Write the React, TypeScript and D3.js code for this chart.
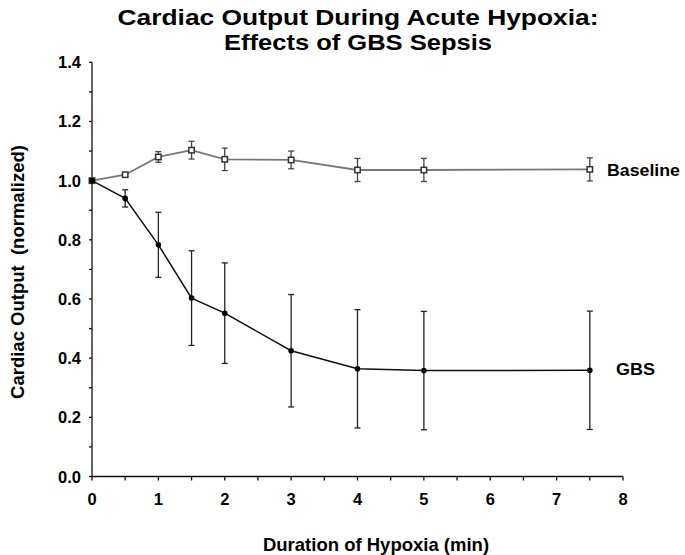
import React from "react";
import * as d3 from "d3";

const times = [0, 0.5, 1, 1.5, 2, 3, 4, 5, 7.5];
const baselineMean = [1.0, 1.02, 1.08, 1.103, 1.072, 1.07, 1.036, 1.036, 1.038];
const baselineErr = [0, 0.006, 0.018, 0.03, 0.038, 0.03, 0.039, 0.039, 0.039];
const gbsMean = [1.0, 0.94, 0.783, 0.603, 0.552, 0.425, 0.364, 0.358, 0.359];
const gbsErr = [0, 0.029, 0.11, 0.16, 0.17, 0.19, 0.2, 0.2, 0.2];
const xTicks = [0, 1, 2, 3, 4, 5, 6, 7, 8];
const yTicks = [0, 0.2, 0.4, 0.6, 0.8, 1.0, 1.2, 1.4];

const FONT = "'Liberation Sans', Arial, Helvetica, sans-serif";

export default function App() {
  const x = d3.scaleLinear().domain([0, 8]).range([92, 623]);
  const y = d3.scaleLinear().domain([0, 1.4]).range([476.5, 62.3]);
  const line = d3
    .line<number>()
    .x((_, i) => x(times[i]))
    .y((d) => y(d));
  const xMinor = d3.range(0, 8.01, 0.5);
  const yMinor = d3.range(0, 1.401, 0.1);

  const errBars = (means: number[], errs: number[], color: string) =>
    times.map((t, i) =>
      errs[i] > 0 ? (
        <g key={i} stroke={color} strokeWidth={1.3}>
          <line x1={x(t)} x2={x(t)} y1={y(means[i] + errs[i])} y2={y(means[i] - errs[i])} />
          <line x1={x(t) - 3} x2={x(t) + 3} y1={y(means[i] + errs[i])} y2={y(means[i] + errs[i])} />
          <line x1={x(t) - 3} x2={x(t) + 3} y1={y(means[i] - errs[i])} y2={y(means[i] - errs[i])} />
        </g>
      ) : null
    );

  return (
    <svg
      width={685}
      height={555}
      style={{ position: "absolute", left: 0, top: 0, background: "#fff" }}
      fontFamily={FONT}
    >
      <rect width={685} height={555} fill="#fff" />
      {/* Title */}
      <text x={358} y={25} textAnchor="middle" fontSize={22.5} fontWeight="bold" textLength={481} lengthAdjust="spacingAndGlyphs">
        Cardiac Output During Acute Hypoxia:
      </text>
      <text x={358} y={50} textAnchor="middle" fontSize={22.5} fontWeight="bold" textLength={268} lengthAdjust="spacingAndGlyphs">
        Effects of GBS Sepsis
      </text>

      {/* Axes */}
      <g stroke="#111" strokeWidth={1.3}>
        <line x1={x(0)} x2={x(0)} y1={y(0)} y2={y(1.4)} />
        <line x1={x(0)} x2={x(8)} y1={y(0)} y2={y(0)} />
        {yMinor.map((v, i) => (
          <line key={"ym" + i} x1={x(0) - 3} x2={x(0)} y1={y(v)} y2={y(v)} />
        ))}
        {xMinor.map((v, i) => (
          <line key={"xm" + i} x1={x(v)} x2={x(v)} y1={y(0)} y2={y(0) + 4} />
        ))}
      </g>
      {yTicks.map((v) => (
        <text key={"yt" + v} x={x(0) - 11} y={y(v) + 6} textAnchor="end" fontSize={16.5} fontWeight="bold">
          {v.toFixed(1)}
        </text>
      ))}
      {xTicks.map((v) => (
        <text key={"xt" + v} x={x(v)} y={y(0) + 28} textAnchor="middle" fontSize={16.5} fontWeight="bold">
          {v}
        </text>
      ))}
      <text x={376} y={551} textAnchor="middle" fontSize={18.5} fontWeight="bold">
        Duration of Hypoxia (min)
      </text>
      <text
        transform={`translate(24, ${272}) rotate(-90)`}
        textAnchor="middle"
        fontSize={18.5}
        fontWeight="bold"
        style={{ whiteSpace: "pre" }}
      >
        {"Cardiac Output  (normalized)"}
      </text>

      {/* Baseline series */}
      <path d={line(baselineMean) || ""} fill="none" stroke="#777" strokeWidth={1.8} />
      {errBars(baselineMean, baselineErr, "#444")}
      {times.map((t, i) => (
        <rect
          key={"bs" + i}
          x={x(t) - 2.7}
          y={y(baselineMean[i]) - 2.7}
          width={5.4}
          height={5.4}
          fill="#fff"
          stroke="#333"
          strokeWidth={1.5}
        />
      ))}

      {/* GBS series */}
      <path d={line(gbsMean) || ""} fill="none" stroke="#111" strokeWidth={1.5} />
      {errBars(gbsMean, gbsErr, "#222")}
      {times.map((t, i) => (
        <circle key={"gp" + i} cx={x(t)} cy={y(gbsMean[i])} r={2.8} fill="#000" />
      ))}

      <text x={607} y={176} fontSize={17} fontWeight="bold" textLength={73} lengthAdjust="spacingAndGlyphs">Baseline</text>
      <text x={616} y={375} fontSize={17} fontWeight="bold" textLength={39} lengthAdjust="spacingAndGlyphs">GBS</text>
    </svg>
  );
}
